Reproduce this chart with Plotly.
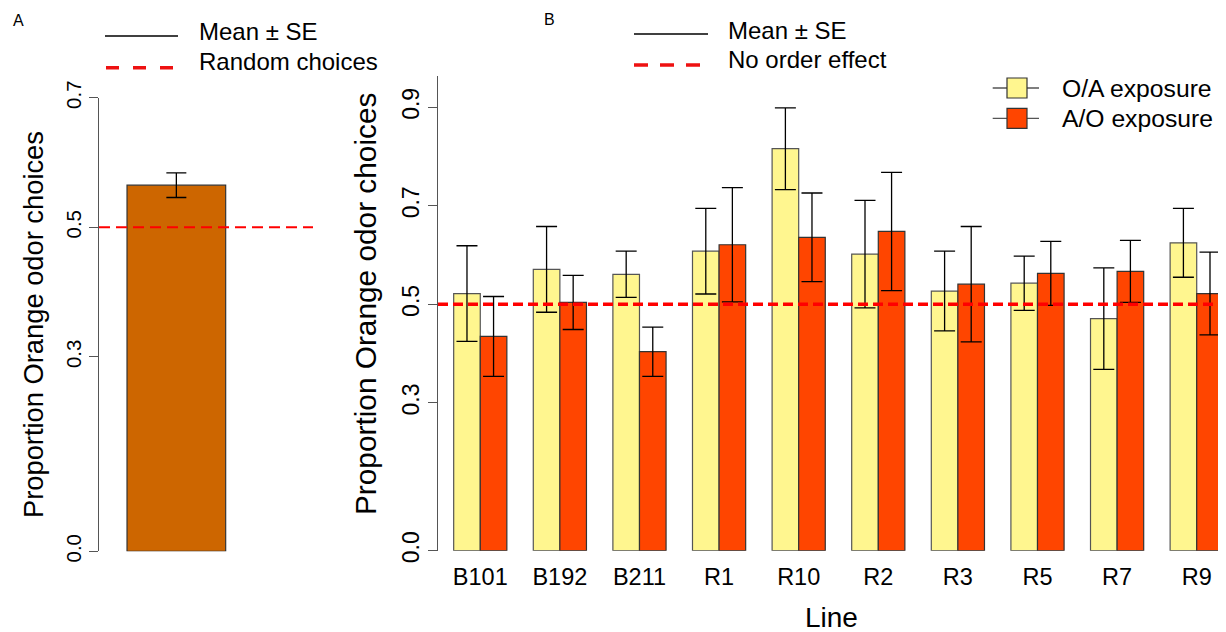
import plotly.graph_objects as go

# ---------------- data ----------------
lines = ["B101", "B192", "B211", "R1", "R10", "R2", "R3", "R5", "R7", "R9"]
oa_mean = [0.522, 0.571, 0.561, 0.608, 0.816, 0.602, 0.527, 0.543, 0.471, 0.625]
oa_se = [0.097, 0.087, 0.047, 0.087, 0.083, 0.109, 0.081, 0.055, 0.103, 0.070]
ao_mean = [0.435, 0.504, 0.404, 0.621, 0.636, 0.648, 0.541, 0.563, 0.567, 0.522]
ao_se = [0.081, 0.055, 0.050, 0.116, 0.090, 0.120, 0.117, 0.065, 0.063, 0.084]
overall_label = ["All"]
overall_mean = [0.565]
overall_se = [0.019]
reference_level = 0.5
yticks_a = [0.0, 0.3, 0.5, 0.7]
yticks_b = [0.0, 0.3, 0.5, 0.7, 0.9]

# ---------------- layout helpers ----------------
# the page body has an 8px margin; the figure is sized/shifted to compensate
OFF = 8
W, H = 1226 - OFF, 632 - OFF
FONT = "Liberation Sans, Arial, sans-serif"


def fx(px):
    return (px - OFF) / W


def fy(py):
    return 1 - (py - OFF) / H


C_A = "#CD6600"
C_OA = "#FFF68F"
C_AO = "#FF4500"
EDGE = "#333333"
AXC = "#555555"

fig = go.Figure()

# Panel A bar
fig.add_trace(go.Bar(
    x=overall_label, y=overall_mean, width=1,
    marker=dict(color=C_A, line=dict(color=EDGE, width=1.2)),
    error_y=dict(type="data", array=overall_se, color="black", thickness=1.3, width=10),
    xaxis="x", yaxis="y", showlegend=False, hoverinfo="skip",
))

# Panel B bars
fig.add_trace(go.Bar(
    x=lines, y=oa_mean, name="O/A exposure",
    marker=dict(color=C_OA, line=dict(color="#555555", width=1.2)),
    error_y=dict(type="data", array=oa_se, color="black", thickness=1.3, width=10.5),
    xaxis="x2", yaxis="y2", showlegend=False,
))
fig.add_trace(go.Bar(
    x=lines, y=ao_mean, name="A/O exposure",
    marker=dict(color=C_AO, line=dict(color=EDGE, width=1.2)),
    error_y=dict(type="data", array=ao_se, color="black", thickness=1.3, width=10.5),
    xaxis="x2", yaxis="y2", showlegend=False,
))

b_top = 0.9 + (107.3 - 75.5) / 492.7

fig.update_layout(
    template="none",
    width=W, height=H,
    margin=dict(l=0, r=0, t=0, b=0, pad=0),
    paper_bgcolor="white", plot_bgcolor="white",
    barmode="group", bargap=0.332, bargroupgap=0,
    font=dict(family=FONT, color="black"),
    showlegend=False,
    xaxis=dict(domain=[fx(99), fx(313)], type="category", range=[-0.784, 1.385],
               showticklabels=False, ticks="", showline=False, showgrid=False,
               zeroline=False, anchor="y", automargin=False),
    yaxis=dict(domain=[fy(551.3), fy(97.7)], range=[0, 0.7],
               tickvals=yticks_a, ticktext=[f"{v:.1f}" for v in yticks_a],
               ticks="outside", ticklen=9, tickcolor=AXC, tickwidth=1.3,
               showline=True, linecolor=AXC, linewidth=1.3,
               tickangle=-90, tickfont=dict(size=20.5, family=FONT, color="black"),
               showgrid=False, zeroline=False, anchor="x", automargin=False),
    xaxis2=dict(domain=[fx(438), 1], type="category", range=[-0.531, 9.368],
                ticks="outside", ticklen=5, tickcolor="rgba(0,0,0,0)",
                showline=False, showgrid=False, zeroline=False,
                tickfont=dict(size=23.5, family=FONT, color="black"),
                anchor="y2", automargin=False),
    yaxis2=dict(domain=[fy(550.7), fy(75.5)], range=[0, b_top],
                tickvals=yticks_b, ticktext=[f"{v:.1f}" for v in yticks_b],
                ticks="outside", ticklen=9, tickcolor=AXC, tickwidth=1.3,
                showline=True, linecolor=AXC, linewidth=1.3,
                tickangle=-90, tickfont=dict(size=23, family=FONT, color="black"),
                showgrid=False, zeroline=False, anchor="x2", automargin=False),
)

shapes = []
# reference lines
shapes.append(dict(type="line", xref="x domain", yref="y", x0=0, x1=1,
                   y0=reference_level, y1=reference_level,
                   line=dict(color="red", width=2, dash="11px,6px"), layer="above"))
shapes.append(dict(type="line", xref="x2 domain", yref="y2", x0=0, x1=1,
                   y0=reference_level, y1=reference_level,
                   line=dict(color="red", width=3.5, dash="10px,5px"), layer="above"))

# Legend A (top-left)
shapes.append(dict(type="line", xref="paper", yref="paper", x0=fx(105), x1=fx(178),
                   y0=fy(36), y1=fy(36), line=dict(color="black", width=1.3)))
shapes.append(dict(type="line", xref="paper", yref="paper", x0=fx(106), x1=fx(176),
                   y0=fy(67.7), y1=fy(67.7), line=dict(color="#EE1111", width=3.5, dash="13px,14px")))
# Legend B (top)
shapes.append(dict(type="line", xref="paper", yref="paper", x0=fx(634), x1=fx(708),
                   y0=fy(34), y1=fy(34), line=dict(color="black", width=1.3)))
shapes.append(dict(type="line", xref="paper", yref="paper", x0=fx(634), x1=fx(708),
                   y0=fy(65), y1=fy(65), line=dict(color="#EE1111", width=3.5, dash="14px,12px")))
# Legend B (right) - line through square
for yc, col in [(88, C_OA), (118.3, C_AO)]:
    shapes.append(dict(type="line", xref="paper", yref="paper", x0=fx(992.7), x1=fx(1039),
                       y0=fy(yc), y1=fy(yc), line=dict(color=AXC, width=1.3)))
    shapes.append(dict(type="rect", xref="paper", yref="paper", x0=fx(1007), x1=fx(1027),
                       y0=fy(yc + 10), y1=fy(yc - 10), fillcolor=col,
                       line=dict(color=EDGE, width=1.2)))

fig.update_layout(shapes=shapes)

ann = []


def text(x, y, s, size, xanchor="left", angle=0):
    ann.append(dict(xref="paper", yref="paper", x=fx(x), y=fy(y), text=s,
                    showarrow=False, xanchor=xanchor, yanchor="middle",
                    textangle=angle, font=dict(size=size, family=FONT, color="black")))


text(18.5, 20, "A", 16, xanchor="center")
text(549, 19, "B", 16, xanchor="center")
text(197, 32, "Mean ± SE", 24)
text(197, 61, "Random choices", 24)
text(726, 31, "Mean ± SE", 24)
text(726, 59, "No order effect", 24)
text(1060, 88, "O/A exposure", 24.7)
text(1060, 118.3, "A/O exposure", 24.7)
text(33, 325, "Proportion Orange odor choices", 27.3, xanchor="center", angle=-90)
text(365, 304, "Proportion Orange odor choices", 29.8, xanchor="center", angle=-90)
text(831, 617, "Line", 28, xanchor="center")

fig.update_layout(annotations=ann)

fig.write_html("out.html")
